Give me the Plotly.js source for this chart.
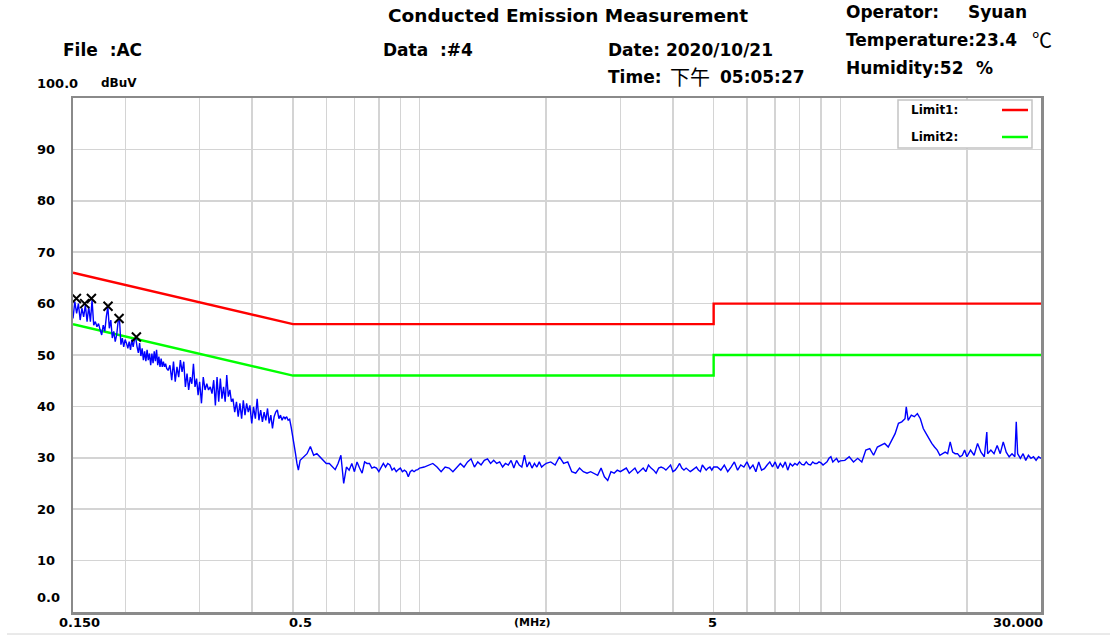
<!DOCTYPE html>
<html>
<head>
<meta charset="utf-8">
<script src="https://cdn.plot.ly/plotly-3.0.1.min.js"></script>
<style>html,body{margin:0;padding:0;background:#fff;}#chart{width:1110px;height:635px;}</style>
</head>
<body>
<div id="chart"></div>
<script>
const f1 = [0.1500,0.1515,0.1530,0.1545,0.1560,0.1575,0.1590,0.1605,0.1620,0.1635,0.1650,0.1665,0.1680,0.1695,0.1710,0.1725,0.1740,0.1755,0.1770,0.1785,0.1800,0.1815,0.1830,0.1845,0.1860,0.1875,0.1890,0.1905,0.1920,0.1935,0.1950,0.1965,0.1980,0.1995,0.2010,0.2025,0.2040,0.2055,0.2070,0.2085,0.2100,0.2115,0.2130,0.2145,0.2160,0.2175,0.2190,0.2205,0.2220,0.2235,0.2250,0.2265,0.2280,0.2295,0.2310,0.2325,0.2340,0.2355,0.2370,0.2385,0.2400,0.2415,0.2430,0.2445,0.2460,0.2475,0.2490,0.2505];
const d1 = [57.1,60.4,58.1,60.0,56.8,59.1,57.4,59.7,56.5,59.4,56.5,60.7,55.8,56.5,55.5,56.1,54.9,53.9,55.8,54.6,57.4,59.4,55.2,56.8,53.3,54.6,52.6,53.9,56.5,56.8,52.0,53.3,51.6,53.0,52.3,51.3,52.6,51.0,53.0,51.6,53.0,53.3,51.6,50.4,52.3,49.8,51.3,49.0,50.7,48.8,51.0,49.0,50.3,48.0,50.3,48.4,50.7,48.8,51.0,48.0,49.7,47.7,49.3,47.7,48.7,47.7,48.3,47.4];

const f2 = [0.2525,0.2550,0.2575,0.2600,0.2625,0.2650,0.2675,0.2700,0.2725,0.2750,0.2775,0.2800,0.2825,0.2850,0.2875,0.2900,0.2925,0.2950,0.2975,0.3000,
            0.3030,0.3060,0.3090,0.3120,0.3150,0.3180,0.3210,0.3240,0.3270,0.3300,0.3330,0.3360,0.3390,0.3420,0.3450,0.3480,0.3510,0.3540,0.3570,0.3600,
            0.3635,0.3670,0.3705,0.3740,0.3775,0.3810,0.3845,0.3880,0.3915,0.3950,
            0.3990,0.4030,0.4070,0.4110,0.4150,0.4190,0.4230,0.4270,0.4310,0.4350,0.4390,0.4430,0.4470,0.4510,0.4550,0.4590,0.4630,0.4670,0.4710,0.4750,0.4790,0.4830,0.4870,0.4910,0.4950,0.4990,0.5030,0.5070,0.5110,0.5150];
const d2 = [47.0,48.0,45.1,48.7,44.8,47.7,45.7,49.0,46.7,48.7,43.8,46.4,43.2,45.7,44.4,48.3,43.8,45.4,42.2,44.8,
            40.6,45.7,43.2,44.4,43.2,43.8,42.5,45.1,40.2,45.7,40.9,45.4,41.5,43.8,40.9,46.1,41.9,43.2,40.9,41.5,
            38.9,40.9,38.0,40.6,37.6,41.2,38.3,40.6,38.9,40.2,
            36.7,39.9,37.6,41.5,37.3,39.3,37.0,38.9,37.3,39.6,36.7,38.3,35.7,38.0,38.9,39.3,37.6,38.3,37.3,38.0,37.6,38.0,37.3,37.5,36.0,34.5,32.4,30.8,28.9,27.6];

const f3 = [0.52,0.53,0.54,0.55,0.56,0.57,0.58,0.59,0.60,0.61,0.62,0.63,0.64,0.65,0.66,0.67,0.68,0.69,0.70,0.71,0.72,0.73,0.74,0.75,0.76,0.77,0.78,0.79,0.80,0.81,0.82,0.83,0.84,0.85,0.86,0.87,0.88,0.89,0.90,0.91,0.92,0.93,0.94,0.95,0.96,0.97,0.98,0.99,1.00];
const d3 = [29.5,30.2,30.8,32.2,30.5,30.8,30.2,29.5,28.9,28.9,28.2,27.7,28.9,30.5,25.0,28.2,27.6,28.9,27.3,29.2,28.0,27.0,29.2,28.9,28.9,28.0,28.2,28.0,27.3,28.2,28.9,28.2,28.9,28.6,27.6,28.0,27.3,27.7,28.0,27.3,27.6,27.3,26.3,27.3,27.6,27.3,27.6,27.7,28.0];

const f4 = [1.025,1.05,1.075,1.10,1.125,1.15,1.175,1.20,1.225,1.25,1.275,1.30,1.325,1.35,1.375,1.40,1.425,1.45,1.475,1.50,1.525,1.55,1.575,1.60,1.625,1.65,1.675,1.70,1.725,1.75,1.775,1.80,1.825,1.85,1.875,1.90,1.925,1.95,1.975,2.00];
const d4 = [28.2,28.6,28.9,28.2,27.3,28.2,28.0,27.3,28.2,28.9,28.2,29.2,29.8,28.2,29.2,28.6,29.5,29.8,28.9,29.5,28.9,29.2,28.2,28.9,28.6,29.5,28.0,29.5,28.6,28.2,30.5,28.2,29.2,28.0,28.9,28.2,29.2,28.2,28.6,28.9];

const f5 = [2.05,2.10,2.15,2.20,2.25,2.30,2.35,2.40,2.45,2.50,2.55,2.60,2.65,2.70,2.75,2.80,2.85,2.90,2.95,3.00,3.05,3.10,3.15,3.20,3.25,3.30,3.35,3.40,3.45,3.50,3.55,3.60,3.65,3.70,3.75,3.80,3.85,3.90,3.95,4.00,4.05,4.10,4.15,4.20,4.25,4.30,4.35,4.40,4.45,4.50,4.55,4.60,4.65,4.70,4.75,4.80,4.85,4.90,4.95,5.00];
const d5 = [29.2,28.6,30.2,28.9,29.2,27.3,27.0,28.0,27.3,27.0,27.3,27.0,26.6,28.0,26.3,25.6,27.3,27.0,27.6,27.3,27.6,28.0,27.0,27.6,28.0,27.0,27.6,28.0,27.3,28.6,28.0,27.6,27.0,28.0,28.2,28.0,27.6,28.2,28.6,27.3,27.6,28.2,28.9,28.0,27.6,28.0,27.6,27.3,27.6,28.0,28.2,27.6,27.3,28.6,28.0,27.6,28.0,28.2,27.6,28.2];

const f6 = [5.1,5.2,5.3,5.4,5.5,5.6,5.7,5.8,5.9,6.0,6.1,6.2,6.3,6.4,6.5,6.6,6.7,6.8,6.9,7.0,7.1,7.2,7.3,7.4,7.5,7.6,7.7,7.8,7.9,8.0,8.1,8.2,8.3,8.4,8.5,8.6,8.7,8.8,8.9,9.0,9.1,9.2,9.3,9.4,9.5,9.6,9.7,9.8,9.9,10.0];
const d6 = [28.2,27.6,28.6,27.3,28.2,29.2,27.6,28.6,28.2,29.2,27.9,28.6,27.3,29.2,27.6,27.9,28.6,29.2,28.2,29.2,27.9,28.9,28.2,29.2,27.6,28.9,28.4,28.9,28.6,29.2,28.7,28.6,29.2,28.7,28.6,29.2,28.9,28.9,29.2,29.0,28.6,28.9,29.2,29.9,30.2,29.2,29.5,29.9,29.2,29.4];

const f7 = [10.25,10.5,10.75,11.0,11.25,11.5,11.75,12.0,12.25,12.5,12.75,13.0,13.25,13.5,13.75,14.0,14.25,14.35,14.5,14.75,15.0,15.25,15.5,15.75,16.0,16.25,16.5,16.75,17.0,17.25,17.5,17.75,18.0,18.25,18.5,18.75,19.0,19.25,19.5,19.75,20.0];
const d7 = [29.5,30.2,29.2,29.9,29.2,31.5,31.8,30.5,32.1,32.4,32.8,32.1,33.4,34.7,36.7,37.0,37.6,39.9,37.3,38.3,38.0,38.6,37.6,35.7,34.7,33.7,32.8,32.1,31.5,30.5,30.8,31.1,30.8,33.1,31.1,30.8,30.8,30.2,30.5,31.5,30.2];

const f8 = [20.4,20.8,21.2,21.6,22.0,22.3,22.4,22.8,23.2,23.6,24.0,24.4,24.8,25.2,25.6,26.0,26.2,26.4,26.8,27.2,27.6,28.0,28.4,28.8,29.2,29.6,30.0];
const d8 = [31.5,30.5,32.8,31.1,30.2,35.0,30.8,31.5,30.8,32.4,30.8,33.1,31.1,30.2,30.8,30.2,37.0,30.8,29.9,30.8,29.5,30.5,29.9,30.2,29.5,30.2,29.9];

// ---- limits ----
const limitFreq = [0.15, 0.5, 5, 5, 30];
const limit1 = [66, 56, 56, 60, 60];
const limit2 = [56, 46, 46, 50, 50];

// ---- peak markers ----
const peakFreq = [0.1528, 0.1599, 0.1659, 0.1817, 0.1930, 0.2122];
const peakLevel = [61.0, 60.0, 61.0, 59.5, 57.1, 53.5];

// ---- axis grid / labels ----
const gridFreq = [0.2,0.3,0.4,0.5,0.6,0.7,0.8,0.9,1,2,3,4,5,6,7,8,9,10,20];
const gridLevel = [10,20,30,40,50,60,70,80,90];
const yTickText = ['10','20','30','40','50','60','70','80','90'];
const xTickText = ['0.150','0.5','(MHz)','5','30.000'];

const freq = [].concat(f1,f2,f3,f4,f5,f6,f7,f8);
const level = [].concat(d1,d2,d3,d4,d5,d6,d7,d8);

// ---- geometry helpers (pixel -> paper) ----
const L = 73, T = 98, PW = 968, PH = 514;
const X = p => (p - L) / PW;
const Y = p => (T + PH - p) / PH;

const BOLD = 'DejaVu Sans';
const CJK = {family: 'Noto Sans CJK SC', size: 20, color: '#000', weight: 'normal'};
function note(text, xpx, ypx, size, anchor, extra) {
  return Object.assign({
    text: text, xref: 'paper', yref: 'paper', x: X(xpx), y: Y(ypx),
    xanchor: anchor || 'left', yanchor: 'middle', showarrow: false,
    font: {family: BOLD, size: size, color: '#000', weight: 'bold'}
  }, extra || {});
}

const annotations = [
  note('Conducted Emission Measurement', 568, 16, 18.5, 'center'),
  note('File\u00a0\u00a0:AC', 61, 50, 17),
  note('Data\u00a0\u00a0:#4', 381, 50, 17),
  note('Date:\u00a02020/10/21', 606, 50, 17),
  note('Time:', 606, 77, 17),
  note('下午', 668, 77, 20, 'left', {font: CJK}),
  note('05:05:27', 718, 77, 17),
  note('Operator:', 844, 12, 17),
  note('Syuan', 966, 12, 17),
  note('Temperature:23.4', 844, 40, 17),
  note('℃', 1030, 40, 20, 'left', {font: CJK}),
  note('Humidity:52', 844, 68, 17),
  note('%', 974, 68, 17),
  note('100.0', 35, 83, 13),
  note('dBuV', 99, 83, 12),
  note('0.0', 35, 597, 13),
  note('Limit1:', 909, 110, 12),
  note('Limit2:', 909, 137, 12)
];
gridLevel.forEach((v, i) => {
  annotations.push({text: yTickText[i], xref: 'paper', yref: 'y', x: X(35), y: v,
    xanchor: 'left', yanchor: 'middle', showarrow: false,
    font: {family: BOLD, size: 13, color: '#000', weight: 'bold'}});
});
const xLabelPx = [79, 300, 532, 712, 1018];
xTickText.forEach((t, i) => {
  annotations.push(note(t, xLabelPx[i], 622, t === '(MHz)' ? 11 : 13, 'center'));
});

const shapes = [
  {type: 'rect', xref: 'paper', yref: 'paper', x0: X(898), x1: X(1032), y0: Y(148), y1: Y(100),
   fillcolor: '#ffffff', line: {color: '#c4c4c4', width: 1.5}, layer: 'above'},
  {type: 'line', xref: 'paper', yref: 'paper', x0: X(1002), x1: X(1028), y0: Y(110), y1: Y(110),
   line: {color: '#ff0000', width: 2.5}, layer: 'above'},
  {type: 'line', xref: 'paper', yref: 'paper', x0: X(1002), x1: X(1028), y0: Y(137), y1: Y(137),
   line: {color: '#00ff00', width: 2.5}, layer: 'above'},
  {type: 'line', xref: 'paper', yref: 'paper', x0: X(7), x1: X(1110), y0: Y(634), y1: Y(634),
   line: {color: '#d4d4d4', width: 1}}
];

const traces = [
  {x: limitFreq, y: limit1, mode: 'lines', line: {color: '#ff0000', width: 2.4}, hoverinfo: 'skip'},
  {x: limitFreq, y: limit2, mode: 'lines', line: {color: '#00ff00', width: 2.4}, hoverinfo: 'skip'},
  {x: freq, y: level, mode: 'lines', line: {color: '#0000ff', width: 1.4}, hoverinfo: 'skip'},
  {x: peakFreq, y: peakLevel, mode: 'markers',
   marker: {symbol: 'x-thin', size: 9, color: '#000', line: {color: '#000', width: 2}}, hoverinfo: 'skip'}
];

const axisCommon = {
  showgrid: true, gridcolor: '#d4d4d4', gridwidth: 1.5,
  showline: true, mirror: true, linecolor: '#8a8a8a', linewidth: 2.5,
  zeroline: false, ticks: '', showticklabels: false, tickmode: 'array', fixedrange: true
};

const layout = {
  width: 1110, height: 635,
  margin: {l: L, r: 1110 - L - PW, t: T, b: 635 - T - PH, pad: 0},
  paper_bgcolor: '#ffffff', plot_bgcolor: '#ffffff',
  showlegend: false,
  xaxis: Object.assign({}, axisCommon, {type: 'log', range: [Math.log10(0.15), Math.log10(30)], tickvals: gridFreq}),
  yaxis: Object.assign({}, axisCommon, {range: [0, 100], tickvals: gridLevel}),
  annotations: annotations,
  shapes: shapes
};

Plotly.newPlot('chart', traces, layout, {staticPlot: true, displayModeBar: false});
</script>
</body>
</html>
